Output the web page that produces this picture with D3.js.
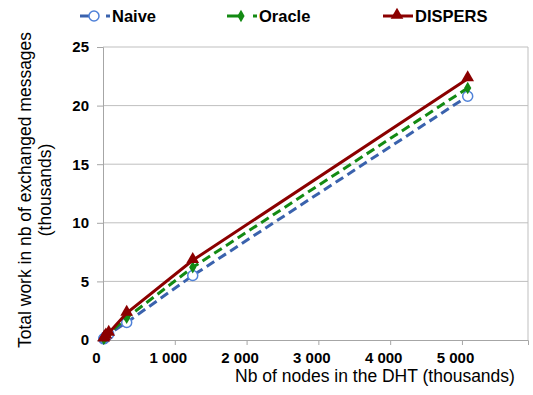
<!DOCTYPE html>
<html>
<head>
<meta charset="utf-8">
<script src="https://cdn.jsdelivr.net/npm/d3@7"></script>
<style>
  body { margin: 0; background: #fff; }
  text { font-family: Arial, "Liberation Sans", sans-serif; }
</style>
</head>
<body>
<div id="chart"></div>
<script>
// nodes in the DHT (thousands)
const nodes = [10, 20, 40, 80, 330, 1250, 5080];
// total work (thousands of messages)
const naive = [0.1, 0.15, 0.3, 0.5, 1.5, 5.5, 20.8];
const oracle = [0.1, 0.17, 0.32, 0.55, 1.9, 6.2, 21.5];
const dispers = [0.1, 0.2, 0.35, 0.6, 2.3, 6.8, 22.3];
const xTicks = [0, 1000, 2000, 3000, 4000, 5000];
const yTicks = [0, 5, 10, 15, 20, 25];

const seriesNames = ['Naive', 'Oracle', 'DISPERS'];

const width = 533, height = 395;
const margin = { left: 103, right: 5, top: 47, bottom: 55 };

const svg = d3.select('#chart').append('svg')
    .attr('width', width)
    .attr('height', height);

const innerW = width - margin.left - margin.right;
const innerH = height - margin.top - margin.bottom;

const xScale = d3.scaleLinear().domain([0, 5920]).range([0, innerW]);
const yScale = d3.scaleLinear().domain([0, 25]).range([innerH, 0]);

const chart = svg.append('g')
    .attr('transform', `translate(${margin.left},${margin.top})`);

// gridlines
chart.append('g')
    .selectAll('line')
    .data(yTicks.filter(d => d > 0))
    .join('line')
    .attr('x1', 0).attr('x2', innerW)
    .attr('y1', d => yScale(d)).attr('y2', d => yScale(d))
    .attr('stroke', '#bfbfbf').attr('stroke-width', 1);

// right border
chart.append('line')
    .attr('x1', innerW).attr('x2', innerW)
    .attr('y1', 0).attr('y2', innerH)
    .attr('stroke', '#bfbfbf');

const xAxis = chart.append('g')
    .attr('transform', `translate(0,${innerH})`)
    .call(d3.axisBottom(xScale).tickValues(xTicks).tickSize(5).tickPadding(7)
        .tickFormat(d => d3.format(',')(d).replace(/,/g, ' ')));
xAxis.selectAll('.tick text').attr('dx', -7);

const yAxis = chart.append('g')
    .call(d3.axisLeft(yScale).tickValues(yTicks).tickSize(6).tickPadding(8));

[xAxis, yAxis].forEach(ax => {
    ax.select('.domain').attr('stroke', '#a6a6a6');
    ax.selectAll('.tick line').attr('stroke', '#a6a6a6');
    ax.selectAll('.tick text')
        .attr('fill', '#000')
        .style('font-size', '15px')
        .style('font-weight', 'bold')
        .style('font-family', 'Arial, "Liberation Sans", sans-serif');
});

const styles = {
    Naive:   { values: naive,   color: '#3a62ad', dash: '9,5', marker: 'circle' },
    Oracle:  { values: oracle,  color: '#138a13', dash: '9,5', marker: 'diamond' },
    DISPERS: { values: dispers, color: '#8b0000', dash: null,  marker: 'triangle' }
};

const line = d3.line()
    .x(d => xScale(d[0]))
    .y(d => yScale(d[1]));

function drawMarker(g, type, color, x, y) {
    if (type === 'circle') {
        g.append('circle').attr('cx', x).attr('cy', y).attr('r', 5)
            .attr('fill', '#fff').attr('stroke', '#4f81d8').attr('stroke-width', 1.5);
    } else if (type === 'diamond') {
        g.append('path').attr('d', d3.symbol(d3.symbolDiamond, 45)())
            .attr('transform', `translate(${x},${y})`)
            .attr('fill', color);
    } else {
        g.append('path').attr('d', d3.symbol(d3.symbolTriangle, 70)())
            .attr('transform', `translate(${x},${y - 1})`)
            .attr('fill', color);
    }
}

seriesNames.forEach(name => {
    const s = styles[name];
    const pts = nodes.map((n, i) => [n, s.values[i]]);
    chart.append('path')
        .datum(pts)
        .attr('d', line)
        .attr('fill', 'none')
        .attr('stroke', s.color)
        .attr('stroke-width', 3)
        .attr('stroke-dasharray', s.dash);
    const mg = chart.append('g');
    pts.forEach(p => drawMarker(mg, s.marker, s.color, xScale(p[0]), yScale(p[1])));
});

// legend
const legendX = [80, 227, 383];
seriesNames.forEach((name, i) => {
    const s = styles[name];
    const g = svg.append('g').attr('transform', `translate(${legendX[i]},16)`);
    g.append('line').attr('x1', 0).attr('x2', 30).attr('y1', 0).attr('y2', 0)
        .attr('stroke', s.color).attr('stroke-width', 3)
        .attr('stroke-dasharray', s.dash ? '12,14,4' : null);
    drawMarker(g, s.marker, s.color, 14, 0);
    g.append('text').attr('x', 32).attr('y', 6)
        .style('font-size', '16.5px').style('font-weight', 'bold')
        .text(name);
});

// axis titles
svg.append('text')
    .attr('x', 375).attr('y', 382)
    .attr('text-anchor', 'middle')
    .style('font-size', '17.5px')
    .text('Nb of nodes in the DHT (thousands)');

const yt = svg.append('text')
    .attr('transform', 'translate(31,190) rotate(-90)')
    .attr('text-anchor', 'middle')
    .style('font-size', '17.5px');
yt.append('tspan').attr('x', 0).attr('dy', 0).text('Total work in nb of exchanged messages');
yt.append('tspan').attr('x', 0).attr('dy', 20).text('(thousands)');
</script>
</body>
</html>
